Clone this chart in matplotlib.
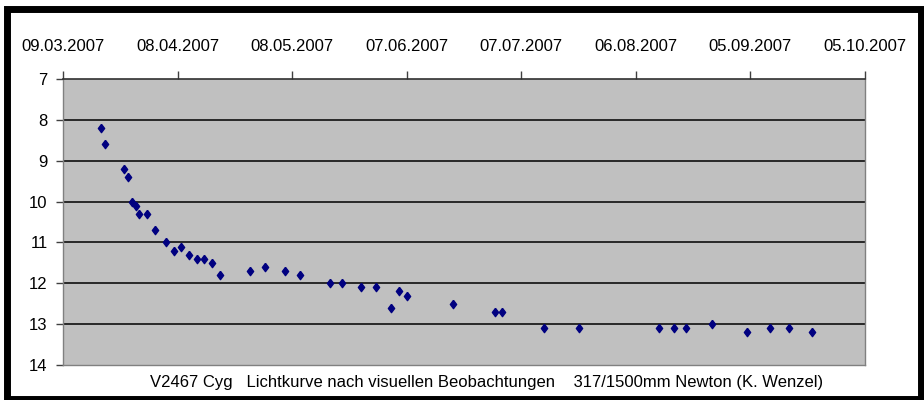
import matplotlib
matplotlib.use("Agg")
import matplotlib.pyplot as plt
import matplotlib.dates as mdates
from matplotlib.patches import Rectangle
import datetime as dt

# Beobachtungsdaten (Datum, Helligkeit in mag)
dates = ["19.03.2007", "20.03.2007", "25.03.2007", "26.03.2007", "27.03.2007",
         "28.03.2007", "29.03.2007", "31.03.2007", "02.04.2007", "05.04.2007",
         "07.04.2007", "09.04.2007", "11.04.2007", "13.04.2007", "15.04.2007",
         "17.04.2007", "19.04.2007", "27.04.2007", "01.05.2007", "06.05.2007",
         "10.05.2007", "18.05.2007", "21.05.2007", "26.05.2007", "30.05.2007",
         "03.06.2007", "05.06.2007", "07.06.2007", "19.06.2007", "30.06.2007",
         "02.07.2007", "13.07.2007", "22.07.2007", "12.08.2007", "16.08.2007",
         "19.08.2007", "26.08.2007", "04.09.2007", "10.09.2007", "15.09.2007",
         "21.09.2007"]
mags = [8.2, 8.6, 9.2, 9.4, 10.0,
        10.1, 10.3, 10.3, 10.7, 11.0,
        11.2, 11.1, 11.3, 11.4, 11.4,
        11.5, 11.8, 11.7, 11.6, 11.7,
        11.8, 12.0, 12.0, 12.1, 12.1,
        12.6, 12.2, 12.3, 12.5, 12.7,
        12.7, 13.1, 13.1, 13.1, 13.1,
        13.1, 13.0, 13.2, 13.1, 13.1,
        13.2]

tick_labels = ["09.03.2007", "08.04.2007", "08.05.2007", "07.06.2007",
               "07.07.2007", "06.08.2007", "05.09.2007", "05.10.2007"]
y_ticks = [7, 8, 9, 10, 11, 12, 13, 14]
title = "V2467 Cyg   Lichtkurve nach visuellen Beobachtungen    317/1500mm Newton (K. Wenzel)"

plt.rcParams['font.family'] = ['Liberation Sans', 'DejaVu Sans']

x = [dt.datetime.strptime(d, "%d.%m.%Y") for d in dates]
xt = [dt.datetime.strptime(d, "%d.%m.%Y") for d in tick_labels]

fig = plt.figure(figsize=(9.24, 4.0), dpi=100)
ax = fig.add_axes([63 / 924, 35 / 400, 802 / 924, 286 / 400])
ax.set_facecolor('#c0c0c0')

# Rauten etwas hoeher als breit, wie in Excel
diamond = [(0, 1), (0.75, 0), (0, -1), (-0.75, 0), (0, 1)]
ax.plot(x, mags, linestyle='none', marker=diamond, markersize=6,
        color='#000080', zorder=3)

ax.set_xlim(mdates.date2num(xt[0]), mdates.date2num(xt[-1]))
ax.set_ylim(14, 7)
ax.set_yticks(y_ticks)
ax.set_xticks(mdates.date2num(xt))
ax.set_xticklabels(tick_labels)

ax.xaxis.set_ticks_position('top')
ax.xaxis.set_label_position('top')
ax.tick_params(axis='x', direction='out', length=6, width=1, color='#404040',
               pad=12, labelsize=12)
ax.tick_params(axis='y', direction='out', length=5, width=1, color='#404040',
               pad=6, labelsize=12)

for yv in y_ticks[1:-1]:
    ax.axhline(yv, color='black', linewidth=1.1, zorder=1)

for s in ['left', 'right', 'bottom']:
    ax.spines[s].set_color('#808080')
    ax.spines[s].set_linewidth(1)
ax.spines['top'].set_color('#303030')
ax.spines['top'].set_linewidth(1.2)

fig.text(487 / 924, 1 - 382 / 400, title, ha='center', va='center', fontsize=12)

# schwarzer Rahmen um das ganze Bild
fig.patches.append(Rectangle((7 / 924, 1 / 400), 914 / 924, 390 / 400,
                             transform=fig.transFigure, fill=False,
                             edgecolor='black', linewidth=5))

fig.savefig('out.png', dpi=100)
